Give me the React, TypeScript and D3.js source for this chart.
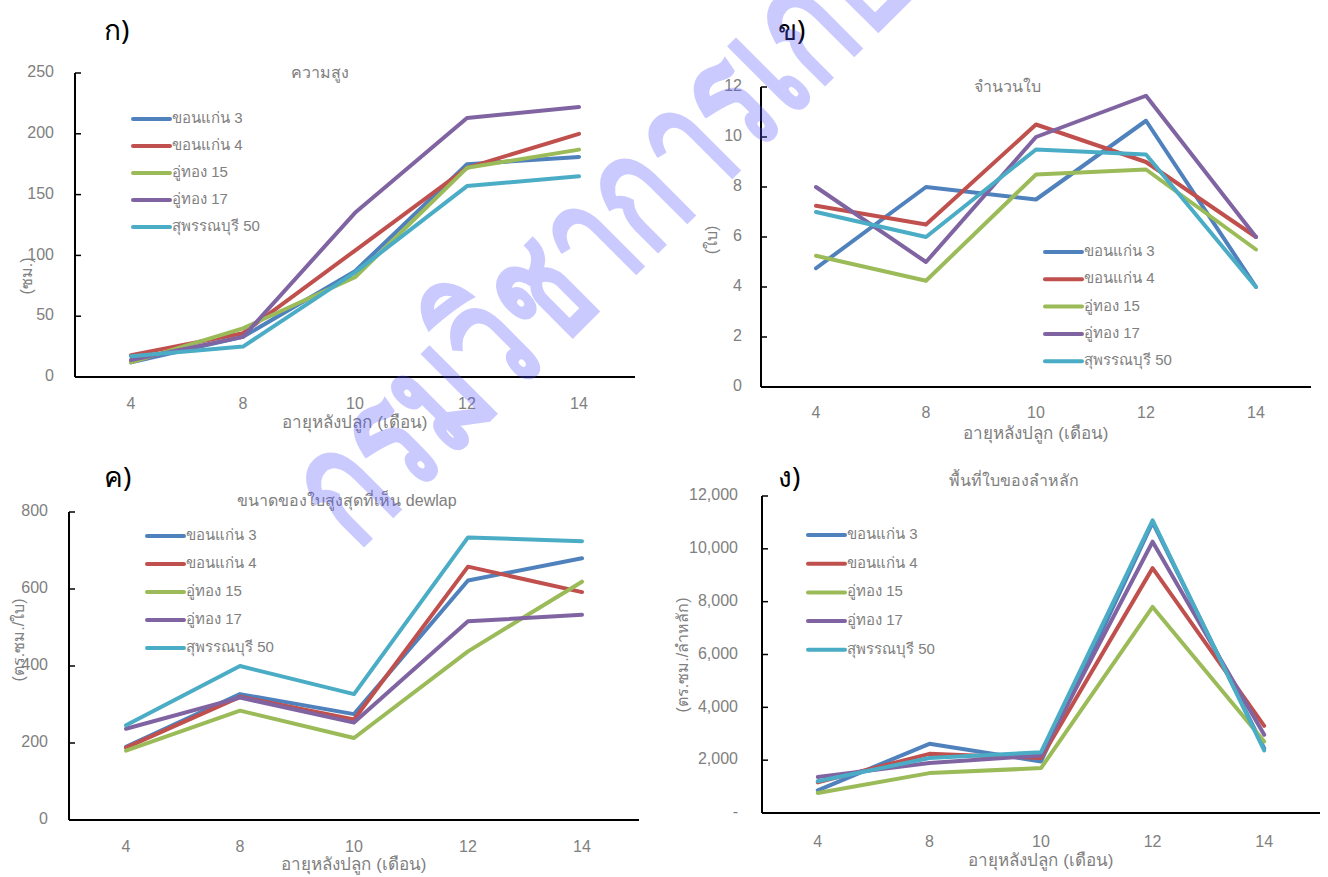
import React from "react";
import * as d3 from "d3";

// Months after planting (x categories)
const months = ["4", "8", "10", "12", "14"];

// Sugarcane varieties
const varieties = ["ขอนแก่น 3", "ขอนแก่น 4", "อู่ทอง 15", "อู่ทอง 17", "สุพรรณบุรี 50"];
const colors = ["#4F81BD", "#C0504D", "#9BBB59", "#8064A2", "#4BACC6"];

// ก) plant height (cm)
const heightKK3 = [12, 33, 87, 175, 181];
const heightKK4 = [18, 36, 104, 172, 200];
const heightUT15 = [12, 40, 82, 172, 187];
const heightUT17 = [14, 33, 135, 213, 222];
const heightSP50 = [17, 25, 86, 157, 165];

// ข) number of leaves
const leavesKK3 = [4.75, 8.0, 7.5, 10.65, 4.0];
const leavesKK4 = [7.25, 6.5, 10.5, 9.0, 6.0];
const leavesUT15 = [5.25, 4.25, 8.5, 8.7, 5.5];
const leavesUT17 = [8.0, 5.0, 10.0, 11.65, 6.0];
const leavesSP50 = [7.0, 6.0, 9.5, 9.3, 4.0];

// ค) size of the highest leaf with visible dewlap (sq.cm/leaf)
const dewlapKK3 = [190, 327, 275, 622, 680];
const dewlapKK4 = [188, 320, 261, 658, 592];
const dewlapUT15 = [180, 284, 213, 438, 619];
const dewlapUT17 = [237, 318, 253, 516, 533];
const dewlapSP50 = [246, 400, 327, 734, 724];

// ง) leaf area of the main stalk (sq.cm/stalk)
const areaKK3 = [860, 2620, 1950, 11000, 2450];
const areaKK4 = [1160, 2240, 2080, 9270, 3300];
const areaUT15 = [760, 1510, 1700, 7800, 2710];
const areaUT17 = [1360, 1890, 2180, 10270, 2960];
const areaSP50 = [1200, 2080, 2300, 11080, 2370];

// Axis tick values
const heightTicks = [0, 50, 100, 150, 200, 250];
const leavesTicks = [0, 2, 4, 6, 8, 10, 12];
const dewlapTicks = [0, 200, 400, 600, 800];
const areaTicks = [0, 2000, 4000, 6000, 8000, 10000, 12000];

const FONT = "'Liberation Sans Narrow', 'Liberation Sans', 'Noto Sans', sans-serif";
const GREY = "#808080";

type PanelProps = {
  label: string;
  labelX: number;
  labelY: number;
  title: string;
  titleX: number;
  titleY: number;
  yLabel: string;
  yLabelX: number;
  yLabelY: number;
  series: number[][];
  ticks: number[];
  tickFmt: (v: number) => string;
  left: number;
  right: number;
  top: number;
  bottom: number;
  tickLabelOffset: number;
  xTickY: number;
  xTitleY: number;
  legendX: number;
  legendY: number;
  legendStep: number;
};

function Panel(p: PanelProps) {
  const x = d3.scaleBand<string>().domain(months).range([p.left, p.right]).padding(0);
  const y = d3
    .scaleLinear()
    .domain([0, p.ticks[p.ticks.length - 1]])
    .range([p.bottom, p.top]);
  const cx = (m: string) => (x(m) as number) + x.bandwidth() / 2;
  const line = d3
    .line<number>()
    .x((_, i) => cx(months[i]))
    .y((v) => y(v));

  return (
    <g fontFamily={FONT}>
      <text x={p.labelX} y={p.labelY} fontSize={28} fill="#000" fontFamily="'Noto Sans', sans-serif">
        {p.label}
      </text>
      <text x={p.titleX} y={p.titleY} textAnchor="middle" dominantBaseline="middle" fontSize={16} fill={GREY}>
        {p.title}
      </text>
      <text
        transform={`translate(${p.yLabelX},${p.yLabelY}) rotate(-90)`}
        textAnchor="middle"
        dominantBaseline="middle"
        fontSize={16}
        fill={GREY}
      >
        {p.yLabel}
      </text>
      {p.ticks.map((t) => (
        <g key={t}>
          <line x1={p.left} x2={p.left + 6} y1={y(t)} y2={y(t)} stroke="#000" strokeWidth={1.5} />
          <text
            x={p.left - p.tickLabelOffset}
            y={y(t)}
            textAnchor="end"
            dominantBaseline="middle"
            fontSize={16}
            fill={GREY}
          >
            {p.tickFmt(t)}
          </text>
        </g>
      ))}
      {months.map((m) => (
        <text key={m} x={cx(m)} y={p.xTickY} textAnchor="middle" dominantBaseline="middle" fontSize={16} fill={GREY}>
          {m}
        </text>
      ))}
      <text
        x={(p.left + p.right) / 2}
        y={p.xTitleY}
        textAnchor="middle"
        dominantBaseline="middle"
        fontSize={17}
        fill={GREY}
      >
        อายุหลังปลูก (เดือน)
      </text>
      {p.series.map((s, i) => (
        <path
          key={i}
          d={line(s) as string}
          fill="none"
          stroke={colors[i]}
          strokeWidth={4}
          strokeLinejoin="round"
          strokeLinecap="round"
        />
      ))}
      <line x1={p.left} x2={p.left} y1={p.top} y2={p.bottom} stroke="#000" strokeWidth={2} />
      <line x1={p.left} x2={p.right} y1={p.bottom} y2={p.bottom} stroke="#000" strokeWidth={2} />
      {varieties.map((v, i) => {
        const ly = p.legendY + i * p.legendStep;
        return (
          <g key={v}>
            <line
              x1={p.legendX}
              x2={p.legendX + 37}
              y1={ly}
              y2={ly}
              stroke={colors[i]}
              strokeWidth={4}
              strokeLinecap="round"
            />
            <text x={p.legendX + 39} y={ly} dominantBaseline="middle" fontSize={15} fill={GREY}>
              {v}
            </text>
          </g>
        );
      })}
    </g>
  );
}

const plain = (v: number) => String(v);
const areaFmt = (v: number) => (v === 0 ? "-" : d3.format(",")(v));

export default function App() {
  return (
    <svg
      width={1328}
      height={877}
      viewBox="0 0 1328 877"
      style={{ position: "absolute", left: 0, top: 0, background: "#fff" }}
    >
      <rect width={1328} height={877} fill="#fff" />
      <Panel
        label="ก)"
        labelX={104}
        labelY={40}
        title="ความสูง"
        titleX={320}
        titleY={74}
        yLabel="(ซม.)"
        yLabelX={28}
        yLabelY={276}
        series={[heightKK3, heightKK4, heightUT15, heightUT17, heightSP50]}
        ticks={heightTicks}
        tickFmt={plain}
        left={75}
        right={635}
        top={73}
        bottom={377}
        tickLabelOffset={21}
        xTickY={405}
        xTitleY={424}
        legendX={133}
        legendY={119}
        legendStep={27}
      />
      <Panel
        label="ข)"
        labelX={778}
        labelY={40}
        title="จำนวนใบ"
        titleX={1007}
        titleY={88}
        yLabel="(ใบ)"
        yLabelX={713}
        yLabelY={240}
        series={[leavesKK3, leavesKK4, leavesUT15, leavesUT17, leavesSP50]}
        ticks={leavesTicks}
        tickFmt={plain}
        left={761}
        right={1311}
        top={87}
        bottom={387}
        tickLabelOffset={19}
        xTickY={414}
        xTitleY={435}
        legendX={1045}
        legendY={252}
        legendStep={27.3}
      />
      <Panel
        label="ค)"
        labelX={104}
        labelY={487}
        title="ขนาดของใบสูงสุดที่เห็น dewlap"
        titleX={347}
        titleY={502}
        yLabel="(ตร.ซม./ใบ)"
        yLabelX={20}
        yLabelY={640}
        series={[dewlapKK3, dewlapKK4, dewlapUT15, dewlapUT17, dewlapSP50]}
        ticks={dewlapTicks}
        tickFmt={plain}
        left={69}
        right={639}
        top={512}
        bottom={820}
        tickLabelOffset={21}
        xTickY={848}
        xTitleY={866}
        legendX={147}
        legendY={536}
        legendStep={28}
      />
      <Panel
        label="ง)"
        labelX={778}
        labelY={487}
        title="พื้นที่ใบของลำหลัก"
        titleX={1014}
        titleY={482}
        yLabel="(ตร.ซม./ลำหลัก)"
        yLabelX={684}
        yLabelY={655}
        series={[areaKK3, areaKK4, areaUT15, areaUT17, areaSP50]}
        ticks={areaTicks}
        tickFmt={areaFmt}
        left={762}
        right={1320}
        top={496}
        bottom={813}
        tickLabelOffset={24}
        xTickY={843}
        xTitleY={862}
        legendX={808}
        legendY={535}
        legendStep={28.7}
      />
      {/* Department watermark across the figure */}
      <text
        transform="translate(356,552) rotate(-45) scale(0.7,1)"
        fontSize={165}
        fontWeight="bold"
        fill="#5050ff"
        fillOpacity={0.3}
        fontFamily="'Noto Sans', sans-serif"
      >
        กรมวิชาการเกษตร
      </text>
    </svg>
  );
}
